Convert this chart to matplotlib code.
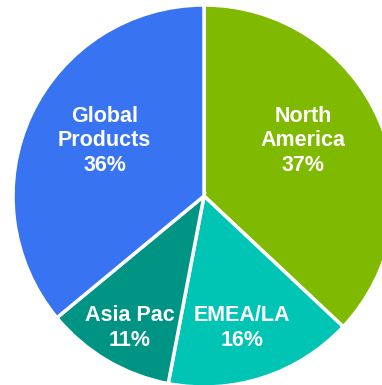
import matplotlib
matplotlib.use("Agg")
import matplotlib.pyplot as plt

categories = ["North\nAmerica", "EMEA/LA", "Asia Pac", "Global\nProducts"]
shares = [37, 16, 11, 36]
colors = ["#80BA00", "#00C4B4", "#009484", "#3874F2"]
label_pos = [(0.52, 0.29), (0.20, -0.690), (-0.39, -0.690), (-0.52, 0.29)]

W, H = 382, 385
fig = plt.figure(figsize=(W / 100, H / 100), dpi=100)
cx, cy, r = 204, 196, 191
ax = fig.add_axes([(cx - r) / W, (H - cy - r) / H, 2 * r / W, 2 * r / H])
wedges, _ = ax.pie(shares, colors=colors, startangle=90, counterclock=False,
                   radius=1.0, wedgeprops=dict(edgecolor="white", linewidth=2.5))
for wdg in wedges:
    wdg.set_clip_on(False)
ax.set_xlim(-1, 1)
ax.set_ylim(-1, 1)
ax.set_aspect("auto")
ax.axis("off")

for cat, val, (x, y) in zip(categories, shares, label_pos):
    ax.text(x, y, f"{cat}\n{val}%", ha="center", va="center", color="white",
            fontsize=15.5, fontweight="bold", family="Liberation Sans",
            linespacing=1.22)

fig.savefig("out.png", dpi=100)
